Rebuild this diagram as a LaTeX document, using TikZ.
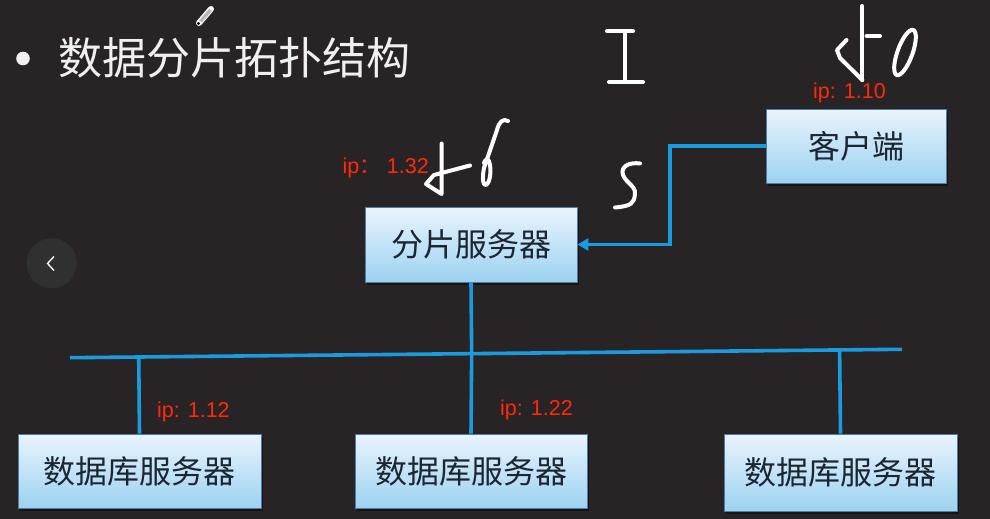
\documentclass[tikz,border=0pt]{standalone}
\usepackage{fontspec}
\setmainfont{Liberation Sans}
\newfontfamily\cjk{Noto Sans CJK SC}
\usetikzlibrary{arrows.meta,calc,shadows}

\definecolor{bgdark}{HTML}{282425}
\definecolor{linkblue}{HTML}{1B9BDF}
\definecolor{boxtop}{HTML}{EAF4FD}
\definecolor{boxbottom}{HTML}{9CD2F1}
\definecolor{boxedge}{HTML}{4C7FA6}
\definecolor{boxtext}{HTML}{1C2632}
\definecolor{iptext}{HTML}{FF2A0A}
\definecolor{navbg}{HTML}{313031}

\tikzset{
  serverbox/.style={draw=boxedge, line width=0.9pt, top color=boxtop, bottom color=boxbottom,
    text=boxtext, font=\cjk\fontsize{32}{32}\selectfont, inner sep=0pt,
    drop shadow={shadow xshift=2pt, shadow yshift=-3pt, opacity=0.45, fill=black}},
  link/.style={draw=linkblue, line width=3.6pt},
  iplabel/.style={text=iptext, font=\fontsize{21.5}{21.5}\selectfont, inner sep=0pt},
  ink/.style={draw=white, line width=4pt, line cap=round, line join=round},
}

\begin{document}
\begin{tikzpicture}[x=1pt, y=-1pt]
  % canvas
  \fill[bgdark] (0,0) rectangle (990,519);
  \useasboundingbox (0,0) rectangle (990,519);

  % heading
  \fill[white!94!black] (23,58.5) circle (6.8);
  \node[anchor=west, inner sep=0pt, text=white!94!black, font=\cjk\fontsize{44}{44}\selectfont] (title) at (58,58) {数据分片拓扑结构};

  % pencil cursor
  \draw[white, line width=6pt, line cap=round] (199,23) -- (211,9);
  \draw[gray!55!white, line width=3.5pt] (200.5,21.5) -- (210.5,10);
  \fill[black] (198.5,23.5) circle (1.6);

  % previous-slide button
  \fill[navbg] (51.7,263.3) circle (25);
  \draw[white, line width=1.3pt] (54,256.5) -- (47.5,263.5) -- (54,270.5);

  % servers
  \node[serverbox, minimum width=180pt, minimum height=74pt] (client) at (856,146) {客户端};
  \node[serverbox, minimum width=212pt, minimum height=75pt] (shard) at (471,244.5) {分片服务器};
  \node[serverbox, minimum width=243pt, minimum height=74pt] (db1) at (139.5,471) {数据库服务器};
  \node[serverbox, minimum width=232pt, minimum height=74pt] (db2) at (471,471) {数据库服务器};
  \node[serverbox, minimum width=233pt, minimum height=77pt] (db3) at (840.5,472.5) {数据库服务器};

  % address labels
  \node[iplabel, anchor=west] (ipclient) at (813,93) {ip: 1.10};
  \node[iplabel, anchor=west] (ipshard) at (342.5,168) {ip{\cjk ：} 1.32};
  \node[iplabel, anchor=west] (ipdb1) at (157,411.5) {ip: 1.12};
  \node[iplabel, anchor=west] (ipdb2) at (500,410) {ip: 1.22};

  % client to shard router
  \coordinate (bend) at (670,146);
  \draw[link, -{Triangle[length=11pt, width=12pt]}] (client.west) -- (bend) |- (shard.east);

  % backbone
  \coordinate (busL) at (70,357.7);
  \coordinate (busR) at (902,349.3);
  \draw[link] (busL) -- (busR);
  \coordinate (j0) at ($(busL)!(shard.south)!(busR)$);
  \coordinate (j1) at ($(busL)!(db1.north)!(busR)$);
  \coordinate (j3) at ($(busL)!(db3.north)!(busR)$);
  \draw[link] (shard.south) -- (j0);
  \draw[link] (j1) -- (db1.north);
  \draw[link] (j0) -- (db2.north);
  \draw[link] (j3) -- (db3.north);

  % handwritten notes
  \draw[ink] (607,31) -- (633,31);
  \draw[ink] (625,31) -- (625,80);
  \draw[ink] (609,82) -- (643,82);

  \draw[ink] (862.3,6) -- (862.3,80);
  \draw[ink] (866.5,36) -- (880,36);
  \draw[ink] (846.5,40) -- (837,50) -- (840,58) -- (862.3,80);
  \draw[ink, rotate around={-20:(905,52.5)}] (905,52.5) ellipse [x radius=7.5, y radius=24];

  \draw[ink] (441.7,143.5) -- (441.5,194) -- (426,184) -- (434,175) -- (470,165.5);
  \draw[ink] (508,121) .. controls (503,118) and (499,122) .. (497,130)
             -- (484,168) .. controls (482,178) and (483,186) .. (486,185)
             .. controls (490,183) and (492,170) .. (489,161)
             .. controls (487,158) and (485,160) .. (484,163);

  \draw[ink] (640,163.5) .. controls (630,162) and (620,166) .. (623,175)
             .. controls (626,183) and (636,186) .. (635,194)
             .. controls (634,203) and (632,206) .. (615,207.5);
\end{tikzpicture}
\end{document}
